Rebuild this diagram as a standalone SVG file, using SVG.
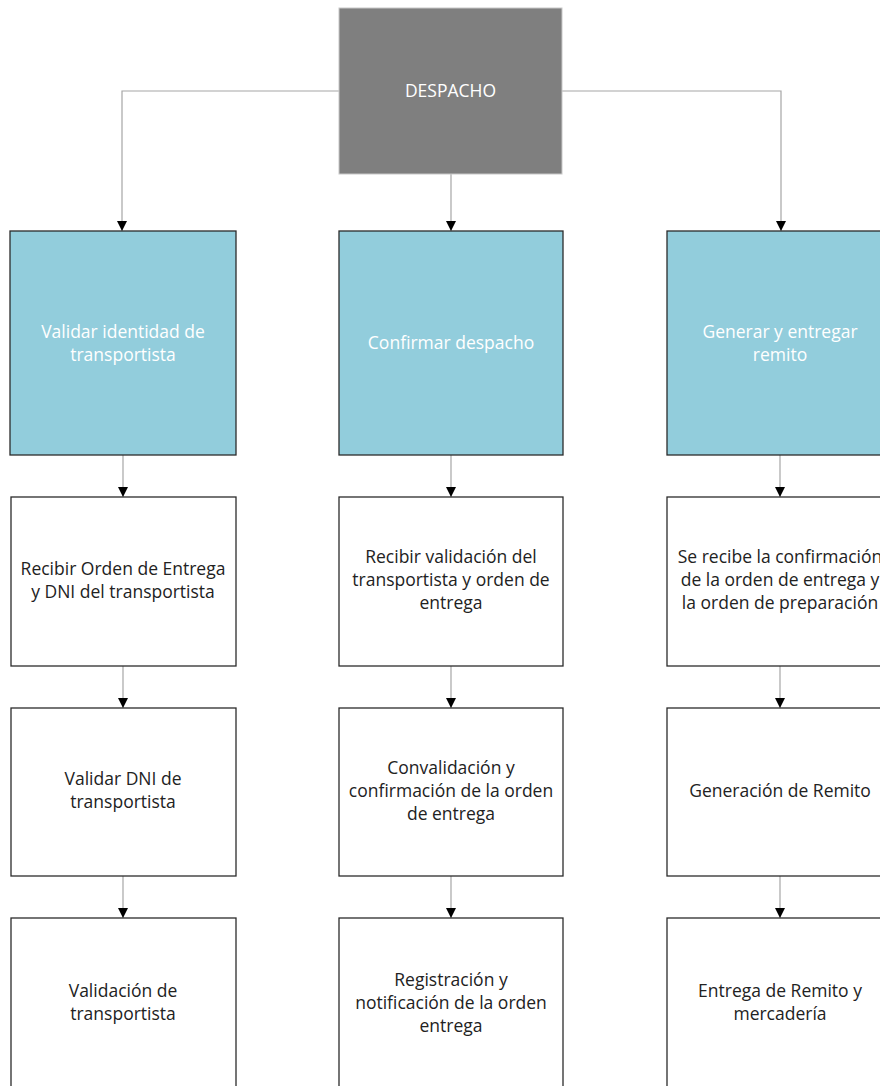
<svg xmlns="http://www.w3.org/2000/svg" width="880" height="1086" viewBox="0 0 880 1086">
<defs>
<marker id="ah" markerWidth="10" markerHeight="10" refX="10" refY="5" orient="auto" markerUnits="userSpaceOnUse">
<path d="M0,0 L10,5 L0,10 Z" fill="#000"/>
</marker>
<style>
.top{fill:#7f7f7f;stroke:#c8c8c8;stroke-width:1}
.blue{fill:#92cddc;stroke:#2b2b2b;stroke-width:1.3}
.white{fill:#fff;stroke:#2b2b2b;stroke-width:1.3}
.conn{fill:none;stroke:#a6a6a6;stroke-width:1.2}
text{font-family:"Open Sans","Noto Sans",sans-serif;font-size:17.5px;text-anchor:middle}
.lt{fill:#fff}
.dk{fill:#222}
</style>
</defs>
<rect width="880" height="1086" fill="#fff"/>
<g id="connectors">
<path class="conn" d="M339,91 H122 V231" marker-end="url(#ah)"/>
<path class="conn" d="M562,91 H781 V231" marker-end="url(#ah)"/>
<path class="conn" d="M451,174 V231" marker-end="url(#ah)"/>
<path class="conn" d="M123,455 V497" marker-end="url(#ah)"/>
<path class="conn" d="M451,455 V497" marker-end="url(#ah)"/>
<path class="conn" d="M780,455 V497" marker-end="url(#ah)"/>
<path class="conn" d="M123,666 V708" marker-end="url(#ah)"/>
<path class="conn" d="M451,666 V708" marker-end="url(#ah)"/>
<path class="conn" d="M780,666 V708" marker-end="url(#ah)"/>
<path class="conn" d="M123,876 V918" marker-end="url(#ah)"/>
<path class="conn" d="M451,876 V918" marker-end="url(#ah)"/>
<path class="conn" d="M780,876 V918" marker-end="url(#ah)"/>
</g>
<g id="despacho">
<rect class="top" x="339" y="8" width="223" height="166"/>
<text class="lt" x="450.5" y="97">DESPACHO</text>
</g>
<g id="validar-identidad">
<rect class="blue" x="10" y="231" width="226" height="224"/>
<text class="lt" x="123" y="338">Validar identidad de</text>
<text class="lt" x="123" y="361">transportista</text>
</g>
<g id="confirmar-despacho">
<rect class="blue" x="339" y="231" width="224" height="224"/>
<text class="lt" x="451" y="349">Confirmar despacho</text>
</g>
<g id="generar-remito">
<rect class="blue" x="667" y="231" width="226" height="224"/>
<text class="lt" x="780" y="338">Generar y entregar</text>
<text class="lt" x="780" y="361">remito</text>
</g>
<g id="recibir-orden">
<rect class="white" x="11" y="497" width="225" height="169"/>
<text class="dk" x="123" y="575">Recibir Orden de Entrega</text>
<text class="dk" x="123" y="598">y DNI del transportista</text>
</g>
<g id="recibir-validacion">
<rect class="white" x="339" y="497" width="224" height="169"/>
<text class="dk" x="451" y="563">Recibir validación del</text>
<text class="dk" x="451" y="586">transportista y orden de</text>
<text class="dk" x="451" y="609">entrega</text>
</g>
<g id="se-recibe">
<rect class="white" x="667" y="497" width="226" height="169"/>
<text class="dk" x="780" y="563">Se recibe la confirmación</text>
<text class="dk" x="780" y="586">de la orden de entrega y</text>
<text class="dk" x="780" y="609">la orden de preparación</text>
</g>
<g id="validar-dni">
<rect class="white" x="11" y="708" width="225" height="168"/>
<text class="dk" x="123" y="785">Validar DNI de</text>
<text class="dk" x="123" y="808">transportista</text>
</g>
<g id="convalidacion">
<rect class="white" x="339" y="708" width="224" height="168"/>
<text class="dk" x="451" y="774">Convalidación y</text>
<text class="dk" x="451" y="797">confirmación de la orden</text>
<text class="dk" x="451" y="820">de entrega</text>
</g>
<g id="generacion-remito">
<rect class="white" x="667" y="708" width="226" height="168"/>
<text class="dk" x="780" y="797">Generación de Remito</text>
</g>
<g id="validacion-transportista">
<rect class="white" x="11" y="918" width="225" height="180"/>
<text class="dk" x="123" y="997">Validación de</text>
<text class="dk" x="123" y="1020">transportista</text>
</g>
<g id="registracion">
<rect class="white" x="339" y="918" width="224" height="180"/>
<text class="dk" x="451" y="986">Registración y</text>
<text class="dk" x="451" y="1009">notificación de la orden</text>
<text class="dk" x="451" y="1032">entrega</text>
</g>
<g id="entrega-remito">
<rect class="white" x="667" y="918" width="226" height="180"/>
<text class="dk" x="780" y="997">Entrega de Remito y</text>
<text class="dk" x="780" y="1020">mercadería</text>
</g>
</svg>
